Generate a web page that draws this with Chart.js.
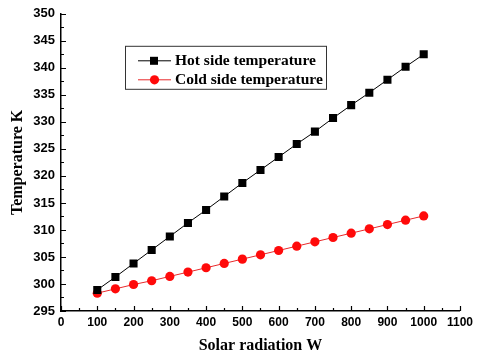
<!DOCTYPE html>
<html>
<head>
<meta charset="utf-8">
<script src="https://cdn.jsdelivr.net/npm/chart.js@4/dist/chart.umd.min.js"></script>
<style>
  html, body { margin: 0; padding: 0; background: #fff; }
  #wrap { width: 477px; height: 357px; position: relative; }
</style>
</head>
<body>
<div id="wrap"><canvas id="chart"></canvas></div>
<script>
// Solar radiation (W) and the two temperatures
const radiation = [100, 150, 200, 250, 300, 350, 400, 450, 500, 550,
                   600, 650, 700, 750, 800, 850, 900, 950, 1000];
const hotSide = [298.9, 301.3, 303.8, 306.3, 308.8, 311.3, 313.7, 316.2, 318.7, 321.1,
                 323.5, 325.9, 328.2, 330.7, 333.1, 335.4, 337.8, 340.2, 342.5];
const coldSide = [298.3, 299.1, 299.9, 300.6, 301.4, 302.2, 303.0, 303.8, 304.6, 305.4,
                  306.2, 307.0, 307.8, 308.6, 309.4, 310.2, 311.0, 311.8, 312.6];
const seriesNames = ['Hot side temperature', 'Cold side temperature'];

const toPoints = (ys) => radiation.map((x, i) => ({ x: x, y: ys[i] }));

// Origin style: ticks pointing into the plot, minor ticks between majors
const inwardTicks = {
  id: 'inwardTicks',
  afterDraw(chart) {
    const ctx = chart.ctx;
    const xs = chart.scales.x, ys = chart.scales.y;
    const area = chart.chartArea;
    ctx.save();
    ctx.strokeStyle = '#000';
    ctx.lineWidth = 1.2;
    ctx.beginPath();
    for (let v = 0; v <= 1100; v += 50) {
      const px = Math.round(xs.getPixelForValue(v)) + 0.5;
      const len = v % 100 === 0 ? 5 : 3;
      ctx.moveTo(px, area.bottom);
      ctx.lineTo(px, area.bottom - len);
    }
    for (let v = 295; v <= 350; v += 2.5) {
      const py = Math.round(ys.getPixelForValue(v)) + 0.5;
      const len = v % 5 === 0 ? 5 : 3;
      ctx.moveTo(area.left, py);
      ctx.lineTo(area.left + len, py);
    }
    ctx.stroke();
    ctx.restore();
  }
};

// Boxed legend inside the plot
const boxLegend = {
  id: 'boxLegend',
  afterDraw(chart) {
    const ctx = chart.ctx;
    const area = chart.chartArea;
    const bx = area.left + 64, by = area.top + 32, bw = 201, bh = 43;
    ctx.save();
    ctx.strokeStyle = '#333';
    ctx.lineWidth = 1;
    ctx.strokeRect(bx + 0.5, by + 0.5, bw, bh);
    ctx.font = 'bold 15.5px "Liberation Serif", "Times New Roman", serif';
    ctx.textBaseline = 'middle';
    chart.data.datasets.forEach((ds, i) => {
      const ry = by + 15 + i * 19;
      ctx.strokeStyle = ds.borderColor;
      ctx.lineWidth = 1;
      ctx.beginPath();
      ctx.moveTo(bx + 13, ry);
      ctx.lineTo(bx + 46, ry);
      ctx.stroke();
      ctx.fillStyle = ds.pointBackgroundColor;
      if (ds.pointStyle === 'rect') {
        ctx.fillRect(bx + 25, ry - 4, 8, 8);
      } else {
        ctx.beginPath();
        ctx.arc(bx + 29.5, ry, 4.6, 0, Math.PI * 2);
        ctx.fill();
      }
      ctx.fillStyle = '#000';
      ctx.fillText(ds.label, bx + 50, ry);
    });
    ctx.restore();
  }
};

const tickFont = (size) => ({ family: '"Liberation Sans", Arial, sans-serif', size: size, weight: 'bold' });
const titleFont = { family: '"Liberation Serif", "Times New Roman", serif', size: 16, weight: 'bold', lineHeight: 1.2 };

new Chart(document.getElementById('chart').getContext('2d'), {
  type: 'line',
  data: {
    datasets: [
      {
        label: seriesNames[0],
        data: toPoints(hotSide),
        borderColor: '#000',
        borderWidth: 1,
        pointStyle: 'rect',
        pointRadius: 5.7,
        pointBackgroundColor: '#000',
        pointBorderColor: '#000',
        pointBorderWidth: 0,
        tension: 0
      },
      {
        label: seriesNames[1],
        data: toPoints(coldSide),
        borderColor: '#e8292b',
        borderWidth: 1,
        pointStyle: 'circle',
        pointRadius: 4.6,
        pointBackgroundColor: '#ff0a0a',
        pointBorderColor: '#ff0a0a',
        pointBorderWidth: 0,
        tension: 0
      }
    ]
  },
  options: {
    responsive: true,
    maintainAspectRatio: false,
    animation: false,
    layout: { padding: { top: 13, right: 16, left: 0, bottom: 0 } },
    plugins: {
      legend: { display: false },
      tooltip: { enabled: false }
    },
    scales: {
      x: {
        type: 'linear',
        min: 0,
        max: 1100,
        afterFit: (scale) => { scale.height = 46; },
        ticks: { stepSize: 100, color: '#000', font: tickFont(12), padding: 4, maxRotation: 0, autoSkip: false,
                 callback: (v) => String(v) },
        grid: { drawOnChartArea: false, drawTicks: false },
        border: { color: '#000', width: 1.5 },
        title: { display: true, text: 'Solar radiation W', color: '#000', font: titleFont, padding: { top: 0, bottom: 2 } }
      },
      y: {
        type: 'linear',
        min: 295,
        max: 350,
        afterFit: (scale) => { scale.width = 61; },
        ticks: { stepSize: 5, color: '#000', font: tickFont(13), padding: 6, callback: (v) => String(v) },
        grid: { drawOnChartArea: false, drawTicks: false },
        border: { color: '#000', width: 1.5 },
        title: { display: true, text: 'Temperature K', color: '#000', font: titleFont, padding: { top: 8, bottom: 0 } }
      }
    }
  },
  plugins: [inwardTicks, boxLegend]
});
</script>
</body>
</html>
